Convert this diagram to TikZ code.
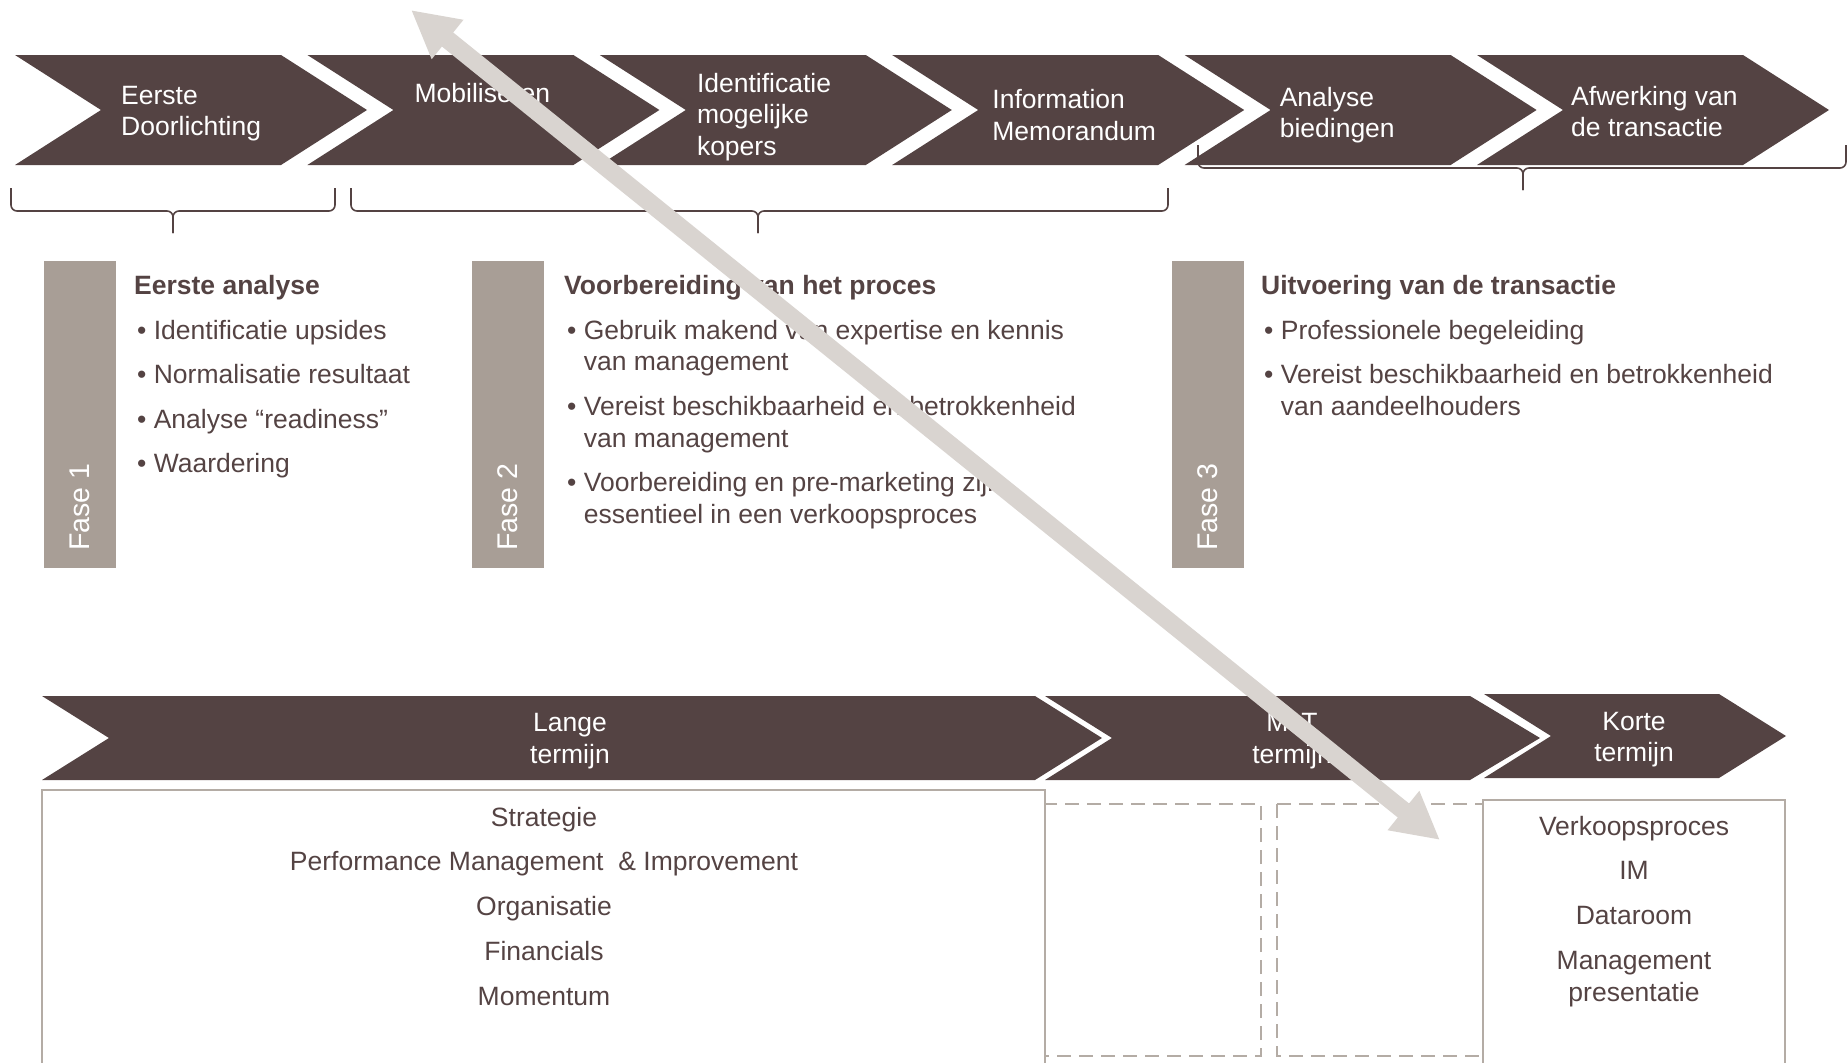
\documentclass[tikz,border=0pt]{standalone}
\usepackage{fontspec}
\setmainfont{Liberation Sans}
\usetikzlibrary{arrows.meta}

\definecolor{chevbrown}{RGB}{84,67,67}
\definecolor{fasegray}{RGB}{168,158,150}
\definecolor{boxgray}{RGB}{180,172,165}
\definecolor{arrowgray}{RGB}{217,212,208}

\newcommand{\lstack}[1]{\begin{tabular}[t]{@{}l@{}}#1\end{tabular}}
\newcommand{\cstack}[1]{\begin{tabular}[t]{@{}c@{}}#1\end{tabular}}
\newcommand{\bul}[1]{\hspace*{3pt}\textbullet\ #1}
\newcommand{\bulnext}[1]{\hspace*{3pt}\phantom{\textbullet\ }#1}

\tikzset{
    bigtext/.style = {font=\fontsize{26.5}{31.8}\selectfont, inner sep=0pt},
    chevtext/.style = {bigtext, text=white, anchor=base west},
    termtext/.style = {bigtext, text=white, anchor=base},
    listtext/.style = {bigtext, text=chevbrown, anchor=base west},
    boxtext/.style = {bigtext, text=chevbrown, anchor=base},
    fasetext/.style = {font=\fontsize{28.5}{32}\selectfont, inner sep=0pt, text=white, rotate=90, anchor=west},
    bracket/.style = {draw=chevbrown, line width=1.6pt, rounded corners=6pt},
    boxline/.style = {draw=boxgray, line width=2pt},
    dashbox/.style = {boxline, dash pattern=on 14pt off 8pt},
    bigarrow/.style = {draw=arrowgray, line width=18pt, {Triangle[length=47pt, width=47pt]}-{Triangle[length=47pt, width=47pt]}}
}

\begin{document}
\begin{tikzpicture}[x=1pt, y=-1pt]

    \useasboundingbox (0,0) rectangle (1848,1063);

    \foreach \i / \dx / \yb / \txt in { 0/106/104/Eerste\\Doorlichting, 1/107/102/Mobiliseren, 2/97/92/Identificatie\\mogelijke\\kopers, 3/100/108.5/Information\\Memorandum, 4/95/106/Analyse\\biedingen, 5/94/105/Afwerking van\\de transactie }
    {
        \fill [chevbrown] (15+292.4*\i, 55) -- ++(266,0) -- ++(86,55) -- ++(-86,55) -- ++(-266,0) -- ++(86,-55) -- cycle;
        \node [chevtext] (top\i) at (15+292.4*\i+\dx, \yb) {\lstack{\txt}};
    }

    \foreach \xa / \xb / \xm / \ya in { 11/335/173/188, 351/1168/758/188, 1198/1846/1523/145 }
    {
        \draw [bracket] (\xa,\ya) -- (\xa,\ya+23) -- (\xm,\ya+23) -- (\xm,\ya+45);
        \draw [bracket] (\xb,\ya) -- (\xb,\ya+23) -- (\xm,\ya+23) -- (\xm,\ya+45);
    }

    \foreach \i / \xa in { 1/44, 2/472, 3/1172 }
    {
        \fill [fasegray] (\xa,261) rectangle ++(72,307);
        \node [fasetext] (fase\i) at (\xa+36, 551) {Fase \i};
    }

    \node [listtext] (list1) at (134,294.5) {\lstack{\textbf{Eerste analyse}\\[12.8pt]
        \bul{Identificatie upsides}\\[12.8pt]
        \bul{Normalisatie resultaat}\\[12.8pt]
        \bul{Analyse “readiness”}\\[12.8pt]
        \bul{Waardering}}};
    \node [listtext] (list2) at (564,294.5) {\lstack{\textbf{Voorbereiding van het proces}\\[12.8pt]
        \bul{Gebruik makend van expertise en kennis}\\ \bulnext{van management}\\[12.8pt]
        \bul{Vereist beschikbaarheid en betrokkenheid}\\ \bulnext{van management}\\[12.8pt]
        \bul{Voorbereiding en pre-marketing zijn}\\ \bulnext{essentieel in een verkoopsproces}}};
    \node [listtext] (list3) at (1261,294.5) {\lstack{\textbf{Uitvoering van de transactie}\\[12.8pt]
        \bul{Professionele begeleiding}\\[12.8pt]
        \bul{Vereist beschikbaarheid en betrokkenheid}\\ \bulnext{van aandeelhouders}}};

    \fill [chevbrown] (42,696) -- (1035,696) -- (1102,738) -- (1035,780) -- (42,780) -- (109,738) -- cycle;
    \fill [chevbrown] (1045,696) -- (1470,696) -- (1540,738) -- (1470,780) -- (1045,780) -- (1112,738) -- cycle;
    \fill [chevbrown] (1484,694) -- (1719,694) -- (1786,736) -- (1719,778) -- (1484,778) -- (1551,736) -- cycle;

    \foreach \x / \yb / \lbl / \nm in { 570/731.5/Lange/termlange, 1292/731.5/MLT/termmlt, 1634/730/Korte/termkorte }
        \node [termtext] (\nm) at (\x,\yb) {\cstack{\lbl\\termijn}};

    \draw [boxline] (42,1063) |- (1045,790) -- (1045,1063);
    \draw [dashbox] (1045,804) rectangle (1261,1056);
    \draw [dashbox] (1277,804) rectangle (1483,1056);
    \draw [boxline] (1483,1063) |- (1785,800) -- (1785,1063);

    \foreach \t [count=\k] in { Strategie, Performance Management \ \& Improvement, Organisatie, Financials, Momentum }
        \node [boxtext] (lange\k) at (544, 826+44.8*\k-44.8) {\t};
    \node [boxtext] (korte) at (1634,835) {\cstack{Verkoopsproces\\[13pt]IM\\[13pt]Dataroom\\[13pt]Management\\presentatie}};

    \coordinate (arrtop) at (411,10);
    \coordinate (arrbot) at (1440,840);
    \draw [bigarrow] (arrtop) -- (arrbot);

\end{tikzpicture}
\end{document}
